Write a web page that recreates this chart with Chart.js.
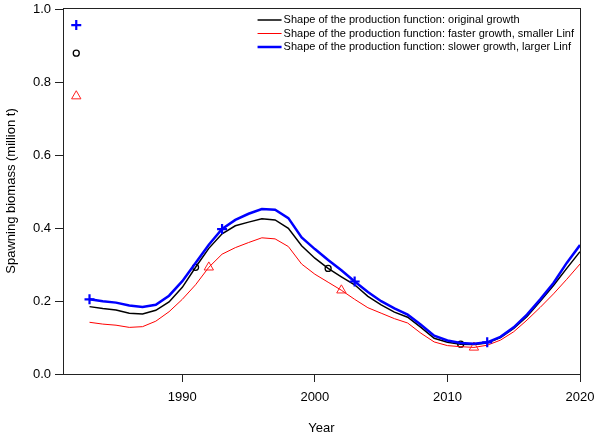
<!DOCTYPE html>
<html>
<head>
<meta charset="utf-8">
<script src="https://cdn.jsdelivr.net/npm/chart.js@4.4.1/dist/chart.umd.min.js"></script>
<style>
  html, body { margin: 0; padding: 0; background: #fff; }
  #wrap { width: 595px; height: 438px; }
</style>
</head>
<body>
<div id="wrap"><canvas id="chart" width="595" height="438"></canvas></div>
<script>
// Assessment years
const years = [1983,1984,1985,1986,1987,1988,1989,1990,1991,1992,1993,1994,1995,1996,1997,1998,1999,2000,2001,2002,2003,2004,2005,2006,2007,2008,2009,2010,2011,2012,2013,2014,2015,2016,2017,2018,2019,2020];

// Spawning biomass (million t) under each production-function shape
const originalGrowth = [0.185,0.180,0.176,0.167,0.165,0.175,0.198,0.238,0.293,0.345,0.385,0.407,0.417,0.426,0.423,0.400,0.352,0.318,0.290,0.267,0.245,0.213,0.190,0.170,0.156,0.128,0.098,0.087,0.082,0.081,0.085,0.100,0.125,0.158,0.200,0.243,0.290,0.336];
const fasterGrowth   = [0.142,0.137,0.134,0.128,0.130,0.145,0.171,0.205,0.245,0.293,0.329,0.347,0.361,0.374,0.371,0.350,0.302,0.274,0.252,0.230,0.205,0.182,0.167,0.152,0.140,0.112,0.088,0.078,0.075,0.073,0.079,0.093,0.116,0.148,0.183,0.220,0.260,0.302];
const slowerGrowth   = [0.205,0.200,0.196,0.188,0.184,0.190,0.215,0.255,0.305,0.355,0.398,0.423,0.440,0.453,0.451,0.428,0.375,0.343,0.313,0.285,0.254,0.225,0.200,0.180,0.163,0.135,0.105,0.092,0.085,0.083,0.087,0.102,0.128,0.163,0.205,0.250,0.305,0.354];

// Years carrying a symbol on each curve
const originalMarkYears = [1991, 2001, 2011];
const fasterMarkYears   = [1992, 2002, 2012];
const slowerMarkYears   = [1983, 1993, 2003, 2013];

// Stand-alone symbols drawn in the upper-left corner
const soloYear = 1982;
const soloValues = [0.958, 0.881, 0.763]; // slower, original, faster

// Axis ticks
const xTicks = [1990, 2000, 2010, 2020];
const yTicks = [0.0, 0.2, 0.4, 0.6, 0.8, 1.0];

const legendLabels = [
  'Shape of the production function: original growth',
  'Shape of the production function: faster growth, smaller Linf',
  'Shape of the production function: slower growth, larger Linf'
];

const FONT = '"Liberation Sans", Arial, sans-serif';

function toPoints(values) {
  return years.map((y, i) => ({ x: y, y: values[i] }));
}
function markRadius(markYears, r) {
  return ctx => (ctx.raw && markYears.includes(ctx.raw.x)) ? r : 0;
}

const framePlugin = {
  id: 'frame',
  afterDraw(chart) {
    const { ctx, chartArea: a } = chart;
    ctx.save();
    ctx.strokeStyle = '#222';
    ctx.lineWidth = 1;
    ctx.strokeRect(Math.round(a.left) + 0.5, Math.round(a.top) + 0.5,
                   Math.round(a.right - a.left), Math.round(a.bottom - a.top));
    ctx.restore();
  }
};

const legendPlugin = {
  id: 'lineLegend',
  afterDraw(chart) {
    const { ctx, chartArea: a } = chart;
    const colors = ['#000000', '#ff0000', '#0000ff'];
    const widths = [1.5, 1, 2.5];
    ctx.save();
    ctx.font = '11px ' + FONT;
    ctx.textBaseline = 'middle';
    ctx.fillStyle = '#000';
    const maxW = Math.max(...legendLabels.map(t => ctx.measureText(t).width));
    const textX = a.right - 6 - maxW;
    legendLabels.forEach((t, i) => {
      const y = 20 + i * 13.5;
      ctx.strokeStyle = colors[i];
      ctx.lineWidth = widths[i];
      ctx.beginPath();
      ctx.moveTo(textX - 26, y);
      ctx.lineTo(textX - 2, y);
      ctx.stroke();
      ctx.fillText(t, textX, y);
    });
    ctx.restore();
  }
};

new Chart(document.getElementById('chart'), {
  type: 'line',
  data: {
    datasets: [
      {
        label: legendLabels[2],
        data: toPoints(slowerGrowth),
        borderColor: '#0000ff',
        borderWidth: 2.5,
        pointStyle: 'cross',
        pointRadius: markRadius(slowerMarkYears, 5),
        pointBorderColor: '#0000ff',
        pointBorderWidth: 2.2,
        pointBackgroundColor: 'rgba(0,0,0,0)',
        tension: 0,
        fill: false
      },
      {
        label: legendLabels[1],
        data: toPoints(fasterGrowth),
        borderColor: '#ff0000',
        borderWidth: 1,
        pointStyle: 'triangle',
        pointRadius: markRadius(fasterMarkYears, 5.4),
        pointBorderColor: '#ff2020',
        pointBorderWidth: 1,
        pointBackgroundColor: 'rgba(0,0,0,0)',
        tension: 0,
        fill: false
      },
      {
        label: legendLabels[0],
        data: toPoints(originalGrowth),
        borderColor: '#000000',
        borderWidth: 1.5,
        pointStyle: 'circle',
        pointRadius: markRadius(originalMarkYears, 3),
        pointBorderColor: '#000000',
        pointBorderWidth: 1.3,
        pointBackgroundColor: 'rgba(0,0,0,0)',
        tension: 0,
        fill: false
      },
      {
        label: 'solo',
        data: soloValues.map(v => ({ x: soloYear, y: v })),
        showLine: false,
        pointStyle: ['cross', 'circle', 'triangle'],
        pointRadius: [5, 3, 5.4],
        pointBorderColor: ['#0000ff', '#000000', '#ff2020'],
        pointBorderWidth: [2.2, 1.3, 1],
        pointBackgroundColor: 'rgba(0,0,0,0)'
      }
    ]
  },
  options: {
    responsive: false,
    animation: false,
    devicePixelRatio: 1,
    events: [],
    layout: { padding: { top: 8, right: 15, left: 0, bottom: 0 } },
    plugins: {
      legend: { display: false },
      tooltip: { enabled: false }
    },
    scales: {
      x: {
        type: 'linear',
        min: 1981,
        max: 2020,
        afterBuildTicks: s => { s.ticks = xTicks.map(v => ({ value: v })); },
        afterFit: s => { s.height = 64; s.paddingLeft = 0; s.paddingRight = 0; },
        grid: { display: true, drawOnChartArea: false, drawTicks: true, tickLength: 8, color: '#222', lineWidth: 1 },
        border: { display: true, color: '#222', width: 1 },
        ticks: {
          color: '#000', autoSkip: false, maxRotation: 0, padding: 8,
          font: { family: FONT, size: 13 },
          callback: v => String(v)
        },
        title: {
          display: true, text: 'Year', color: '#000',
          font: { family: FONT, size: 13 },
          padding: { top: 0, bottom: 2 }
        }
      },
      y: {
        type: 'linear',
        min: 0,
        max: 1.005,
        afterBuildTicks: s => { s.ticks = yTicks.map(v => ({ value: v })); },
        afterFit: s => { s.width = 63; s.paddingTop = 0; s.paddingBottom = 0; },
        grid: { display: true, drawOnChartArea: false, drawTicks: true, tickLength: 8, color: '#222', lineWidth: 1 },
        border: { display: true, color: '#222', width: 1 },
        ticks: {
          color: '#000', autoSkip: false, padding: 4,
          font: { family: FONT, size: 13 },
          callback: v => Number(v).toFixed(1)
        },
        title: {
          display: true, text: 'Spawning biomass (million t)', color: '#000',
          font: { family: FONT, size: 13 },
          padding: { top: 4, bottom: 0 }
        }
      }
    }
  },
  plugins: [framePlugin, legendPlugin]
});
</script>
</body>
</html>
